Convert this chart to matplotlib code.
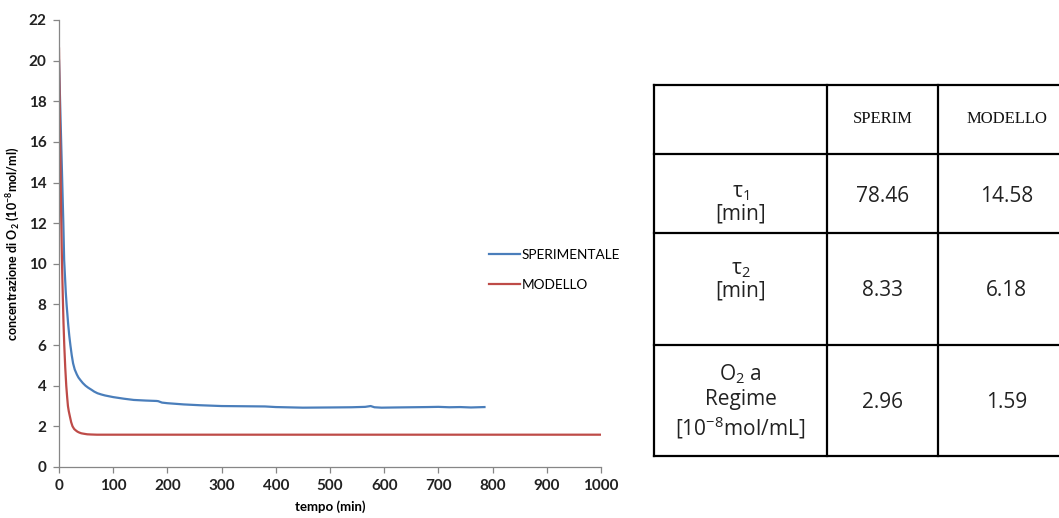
import matplotlib
matplotlib.use("Agg")
import matplotlib.pyplot as plt
from matplotlib.lines import Line2D

# ---- curve data: O2 concentration vs time ----
t_sperim = [0, 2, 4, 6, 8, 9.5, 11, 12.5, 14, 15.5, 17, 19, 21, 23.5, 26, 29, 33,
            36, 40, 44, 49, 54, 60, 65, 71, 78, 85, 100, 120, 138, 160, 180, 183,
            190, 200, 230, 260, 300, 340, 380, 400, 450, 500, 540, 565, 575, 582,
            595, 620, 650, 680, 700, 720, 740, 760, 785]
c_sperim = [20.0, 18.0, 16.0, 14.0, 12.0, 10.2, 9.4, 8.6, 8.0, 7.5, 7.0, 6.45, 6.0,
            5.5, 5.1, 4.8, 4.55, 4.4, 4.26, 4.13, 4.0, 3.9, 3.8, 3.71, 3.63, 3.57,
            3.52, 3.44, 3.36, 3.3, 3.27, 3.25, 3.24, 3.17, 3.14, 3.08, 3.04, 3.0,
            2.99, 2.98, 2.95, 2.92, 2.93, 2.94, 2.96, 3.0, 2.94, 2.92, 2.93, 2.94,
            2.95, 2.96, 2.94, 2.95, 2.93, 2.95]

t_modello = [0, 1, 2, 3, 4, 5, 6, 7, 8.3, 9.7, 11.5, 13.4, 15, 16.5, 18, 20, 22.5,
             25, 28, 31, 34, 37, 41, 45, 52, 59, 70, 80, 1000]
c_modello = [20.6, 18.5, 16.3, 14.3, 12.4, 10.8, 9.5, 8.4, 7.1, 6.0, 4.9, 4.0, 3.45,
             3.0, 2.75, 2.5, 2.2, 2.0, 1.87, 1.8, 1.74, 1.7, 1.66, 1.64, 1.61, 1.6,
             1.59, 1.59, 1.59]

x_ticks = [0, 100, 200, 300, 400, 500, 600, 700, 800, 900, 1000]
y_ticks = [0, 2, 4, 6, 8, 10, 12, 14, 16, 18, 20, 22]

# ---- table data ----
col_headers = ["", "SPERIM", "MODELLO"]
row_labels = [r"$\mathregular{\tau_1}$" + "\n[min]",
              r"$\mathregular{\tau_2}$" + "\n[min]",
              r"O$\mathregular{_2}$ a" + "\nRegime\n" + r"[10$\mathregular{^{-8}}$mol/mL]"]
val_sperim = ["78.46", "8.33", "2.96"]
val_modello = ["14.58", "6.18", "1.59"]

W, H = 1059, 518
fig = plt.figure(figsize=(W / 100, H / 100), dpi=100)

BLUE = "#4A7EBB"
RED = "#BE4B48"
GRAY = "#868686"
TICKFONT = dict(family="Lato", weight="bold", size=11)

ax = fig.add_axes([59 / W, 1 - 467 / H, (601 - 59) / W, (467 - 20) / H])
ax.plot(t_sperim, c_sperim, color=BLUE, lw=1.6, label="SPERIMENTALE")
ax.plot(t_modello, c_modello, color=RED, lw=1.6, label="MODELLO")
ax.set_xlim(0, 1000)
ax.set_ylim(0, 22)
ax.set_xticks(x_ticks)
ax.set_yticks(y_ticks)
ax.set_xticklabels([str(v) for v in x_ticks], **TICKFONT)
ax.set_yticklabels([str(v) for v in y_ticks], **TICKFONT)
for s in ("top", "right"):
    ax.spines[s].set_visible(False)
for s in ("left", "bottom"):
    ax.spines[s].set_color(GRAY)
    ax.spines[s].set_linewidth(0.9)
ax.tick_params(direction="out", length=4, width=0.9, color=GRAY, pad=5,
               labelcolor="#222222")
ax.set_xlabel("tempo (min)", family="Lato", weight="bold", size=9.5, labelpad=5)
ax.set_ylabel(r"concentrazione di O$\mathregular{_2}$ (10$\mathregular{^{-8}}$mol/ml)",
              family="Lato", weight="bold", size=9, labelpad=5)

leg = fig.legend(loc="upper left", bbox_to_anchor=(489 / W, 1 - 249 / H),
                 frameon=False, prop=dict(family="Lato", size=9.8),
                 handlelength=2.25, handletextpad=0.15, labelspacing=1.3,
                 borderpad=0, borderaxespad=0)

# ---- table drawn on a pixel-space overlay ----
ov = fig.add_axes([0, 0, 1, 1])
ov.set_xlim(0, W)
ov.set_ylim(H, 0)
ov.axis("off")

xs = [654, 827, 938, 1075]
ys = [85, 154, 233, 345, 456]
for y in ys:
    ov.add_line(Line2D([xs[0], xs[-1]], [y, y], color="black", lw=1.6))
for x in xs:
    ov.add_line(Line2D([x, x], [ys[0], ys[-1]], color="black", lw=1.6))

cx = [(xs[i] + xs[i + 1]) / 2 for i in range(3)]
HDR = dict(family="Liberation Serif", size=12, ha="center", va="center",
           color="#111111")
CELL = dict(family="Open Sans", size=15, ha="center", va="center", color="#222222")

for i, h in enumerate(col_headers):
    if h:
        ov.text(cx[i], 119, h, **HDR)

label_y = [203, 280, 402]
value_y = [196, 291, 402]
spacing = [1.05, 1.05, 1.2]
for r in range(3):
    ov.text(cx[0], label_y[r], row_labels[r], linespacing=spacing[r], **CELL)
    ov.text(cx[1], value_y[r], val_sperim[r], **CELL)
    ov.text(cx[2], value_y[r], val_modello[r], **CELL)

fig.savefig("out.png", dpi=100)
